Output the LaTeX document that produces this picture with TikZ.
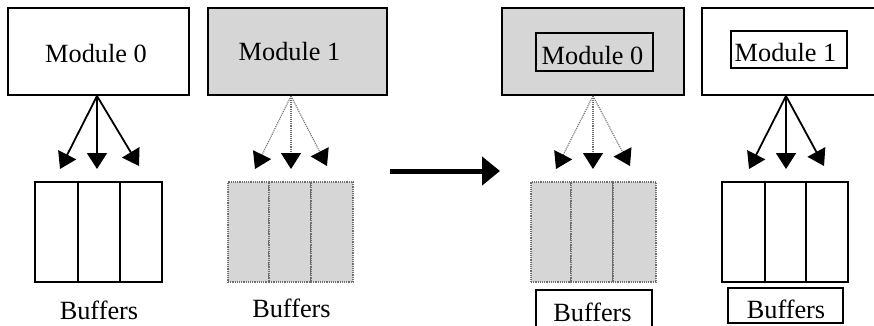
\documentclass[tikz,border=0pt]{standalone}
\usepackage{fontspec}
\setmainfont{Liberation Serif}
\usetikzlibrary{arrows.meta}
\definecolor{shade}{HTML}{D6D6D6}
\definecolor{dotgray}{HTML}{6E6E6E}
\begin{document}
\begin{tikzpicture}[x=1pt,y=-1pt,
  lbl/.style={font=\fontsize{26.3}{30}\selectfont, inner sep=0, anchor=base},
  modwhite/.style={draw=black, line width=1.6pt, fill=white, inner sep=0},
  modgray/.style={draw=black, line width=1.6pt, fill=shade, inner sep=0},
  frame/.style={draw=black, line width=1.4pt, inner sep=0, fill=none},
  cellwhite/.style={draw=black, line width=2.4pt, fill=white, inner sep=0},
  cellgray/.style={draw=dotgray, line width=1.2pt, densely dotted, fill=shade, inner sep=0},
  solidarr/.style={line width=1.8pt, -{Triangle[length=16pt,width=20pt]}},
  dotarr/.style={draw=dotgray, line width=1.1pt, densely dotted, -{Triangle[length=16pt,width=20pt,black]}},
  bigarr/.style={line width=5pt, -{Triangle[length=18pt,width=28pt]}}
]
\useasboundingbox (0,0) rectangle (874,326);

% ---------- left pair ----------
\node[modwhite, minimum width=181pt, minimum height=87pt] (m0L) at (98.5,51.5) {};
\node[lbl] (m0Lt) at (96,63) {Module 0};
\node[modgray, minimum width=179pt, minimum height=87pt] (m1L) at (297.5,51.5) {};
\node[lbl] (m1Lt) at (289.5,61) {Module 1};

% buffers white (left)
\node[cellwhite, minimum width=43pt, minimum height=100pt] (bL1) at (56.5,232) {};
\node[cellwhite, minimum width=42pt, minimum height=100pt] (bL2) at (99,232) {};
\node[cellwhite, minimum width=42pt, minimum height=100pt] (bL3) at (141,232) {};
\node[lbl] (bLt) at (99,319) {Buffers};

% buffers gray (left)
\node[cellgray, minimum width=41pt, minimum height=100pt] (gL1) at (248.5,232) {};
\node[cellgray, minimum width=42pt, minimum height=100pt] (gL2) at (290,232) {};
\node[cellgray, minimum width=42pt, minimum height=100pt] (gL3) at (332,232) {};
\node[lbl] (gLt) at (291.5,317) {Buffers};

% arrows left
\coordinate (m0Lo) at (97,96);
\coordinate (aL1) at (60,169);
\coordinate (aL2) at (97,169);
\coordinate (aL3) at (139,166);
\draw[solidarr] (m0Lo) -- (aL1);
\draw[solidarr] (m0Lo) -- (aL2);
\draw[solidarr] (m0Lo) -- (aL3);

\coordinate (m1Lo) at (291,96);
\coordinate (aG1) at (255,169);
\coordinate (aG2) at (291,169);
\coordinate (aG3) at (327,166);
\draw[dotarr] (m1Lo) -- (aG1);
\draw[dotarr] (m1Lo) -- (aG2);
\draw[dotarr] (m1Lo) -- (aG3);

% ---------- transition arrow ----------
\coordinate (tA) at (390,171);
\coordinate (tB) at (500,171);
\draw[bigarr] (tA) -- (tB);

% ---------- right pair ----------
\node[modgray, minimum width=182pt, minimum height=87pt] (m0R) at (593,51.5) {};
\node[frame, minimum width=117pt, minimum height=38pt] (m0Rf) at (594.5,52) {};
\node[lbl] (m0Rt) at (592.5,65) {Module 0};
\node[modwhite, minimum width=180pt, minimum height=87pt] (m1R) at (792,51.5) {};
\node[frame, minimum width=116pt, minimum height=37pt] (m1Rf) at (789,49.5) {};
\node[lbl] (m1Rt) at (785.5,62) {Module 1};

% buffers gray (right)
\node[cellgray, minimum width=40pt, minimum height=100pt] (gR1) at (551,232) {};
\node[cellgray, minimum width=42pt, minimum height=100pt] (gR2) at (592,232) {};
\node[cellgray, minimum width=43pt, minimum height=100pt] (gR3) at (634.5,232) {};
\node[frame, minimum width=116pt, minimum height=40pt] (gRf) at (594,310) {};
\node[lbl] (gRt) at (592.5,321) {Buffers};

% buffers white (right)
\node[cellwhite, minimum width=43pt, minimum height=100pt] (bR1) at (743.5,232) {};
\node[cellwhite, minimum width=41pt, minimum height=100pt] (bR2) at (785.5,232) {};
\node[cellwhite, minimum width=42pt, minimum height=100pt] (bR3) at (827,232) {};
\node[frame, minimum width=115pt, minimum height=35pt] (bRf) at (785.5,305.5) {};
\node[lbl] (bRt) at (786,318) {Buffers};

% arrows right
\coordinate (m0Ro) at (593,96);
\coordinate (aH1) at (556,169);
\coordinate (aH2) at (593,169);
\coordinate (aH3) at (630,166);
\draw[dotarr] (m0Ro) -- (aH1);
\draw[dotarr] (m0Ro) -- (aH2);
\draw[dotarr] (m0Ro) -- (aH3);

\coordinate (m1Ro) at (786,96);
\coordinate (aW1) at (749,169);
\coordinate (aW2) at (786,169);
\coordinate (aW3) at (824,166);
\draw[solidarr] (m1Ro) -- (aW1);
\draw[solidarr] (m1Ro) -- (aW2);
\draw[solidarr] (m1Ro) -- (aW3);
\end{tikzpicture}
\end{document}
